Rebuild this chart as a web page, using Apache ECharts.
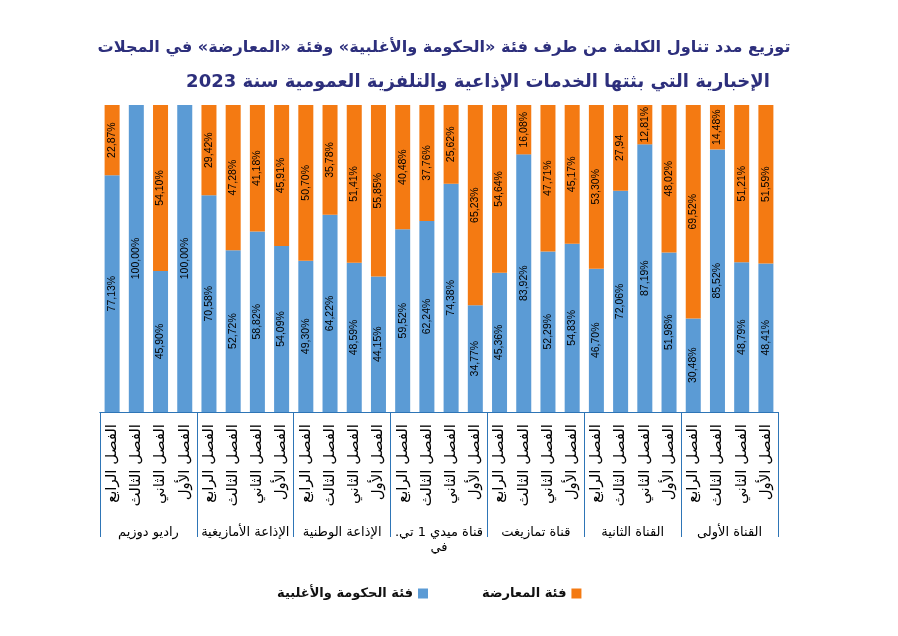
<!DOCTYPE html>
<html><head><meta charset="utf-8">
<script src="https://cdn.jsdelivr.net/npm/echarts@6/dist/echarts.min.js"></script>
<style>html,body{margin:0;padding:0;background:#fff}#c{width:898px;height:636px}</style>
</head><body><div id="c"></div>
<script>
const groups = ['راديو دوزيم','الإذاعة الأمازيغية','الإذاعة الوطنية','قناة ميدي 1 تي.\u200F\nفي','قناة تمازيغت','القناة الثانية','القناة الأولى'];
const quarters = ['الفصل الرابع','الفصل الثالث','الفصل الثاني','الفصل الأول'];
const govValues = [77.13,100.00,45.90,100.00, 70.58,52.72,58.82,54.09, 49.30,64.22,48.59,44.15, 59.52,62.24,74.38,34.77, 45.36,83.92,52.29,54.83, 46.70,72.06,87.19,51.98, 30.48,85.52,48.79,48.41];
const oppValues = [22.87,null,54.10,null, 29.42,47.28,41.18,45.91, 50.70,35.78,51.41,55.85, 40.48,37.76,25.62,65.23, 54.64,16.08,47.71,45.17, 53.30,27.94,12.81,48.02, 69.52,14.48,51.21,51.59];
const noPercentLabels = [21]; // index in oppValues whose label shows no percent sign
const seriesNames = ['فئة الحكومة والأغلبية','فئة المعارضة'];

const cats = [];
groups.forEach(() => quarters.forEach(q => cats.push(q)));
const fmt = (v, noPct) => v == null ? '' : v.toFixed(2).replace('.', ',') + (noPct ? '' : '%');
const AR = 'DejaVu Sans';

const chart = echarts.init(document.getElementById('c'));
chart.setOption({
  animation: false,
  title: [
    {text: 'توزيع مدد تناول الكلمة من طرف فئة «الحكومة والأغلبية» وفئة «المعارضة» في المجلات', left: 439, top: 35, textAlign: 'center',
     textStyle: {fontFamily: AR, fontSize: 16.1, fontWeight: 'bold', color: '#2D2F7C'}},
    {text: 'الإخبارية التي بثتها الخدمات الإذاعية والتلفزية العمومية سنة 2023', left: 473, top: 68, textAlign: 'center',
     textStyle: {fontFamily: AR, fontSize: 18, fontWeight: 'bold', color: '#2D2F7C'}}
  ],
  legend: {
    data: seriesNames, left: 272, top: 582, align: 'right', itemGap: 54,
    itemWidth: 10, itemHeight: 10, icon: 'rect',
    textStyle: {fontFamily: AR, fontSize: 13, fontWeight: 'bold', color: '#111'}
  },
  grid: {left: 100, right: 120, top: 105, bottom: 224},
  xAxis: [
    {type: 'category', data: cats, gridIndex: 0, position: 'bottom',
     axisLine: {show: true, lineStyle: {color: '#2E75B6', width: 1}},
     axisTick: {show: false},
     axisLabel: {rotate: 90, margin: 12, interval: 0, fontFamily: AR, fontSize: 15, color: '#000'}},
    {type: 'category', data: groups, gridIndex: 0, position: 'bottom',
     axisLine: {show: true, lineStyle: {color: '#2E75B6', width: 1}},
     axisTick: {show: true, length: 125, lineStyle: {color: '#2E75B6', width: 1}},
     axisLabel: {margin: 113, interval: 0, fontFamily: AR, fontSize: 13, color: '#000', lineHeight: 15, verticalAlign: 'top'}}
  ],
  yAxis: {type: 'value', min: 0, max: 100, show: false},
  series: [
    {name: seriesNames[0], type: 'bar', stack: 's', data: govValues, barCategoryGap: '38%',
     itemStyle: {color: '#5B9BD5'},
     label: {show: true, rotate: 90, position: 'inside', fontSize: 10.5, color: '#000', fontFamily: 'Liberation Sans',
       formatter: p => fmt(p.value, false)}},
    {name: seriesNames[1], type: 'bar', stack: 's', data: oppValues, barCategoryGap: '38%',
     itemStyle: {color: '#F47A12'},
     label: {show: true, rotate: 90, position: 'inside', fontSize: 10.5, color: '#000', fontFamily: 'Liberation Sans',
       formatter: p => fmt(p.value, noPercentLabels.includes(p.dataIndex))}}
  ]
});
</script></body></html>
